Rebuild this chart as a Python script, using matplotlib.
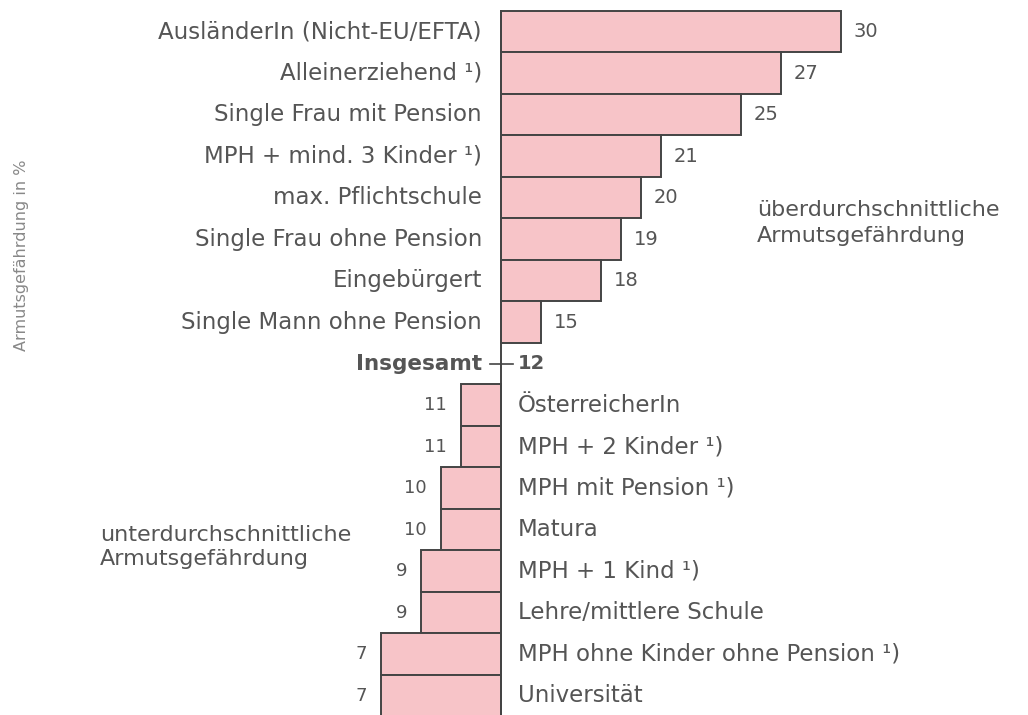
import matplotlib.pyplot as plt

plt.rcParams['font.family'] = ['DejaVu Sans']

above_labels = ["AusländerIn (Nicht-EU/EFTA)", "Alleinerziehend ¹)", "Single Frau mit Pension",
                "MPH + mind. 3 Kinder ¹)", "max. Pflichtschule", "Single Frau ohne Pension",
                "Eingebürgert", "Single Mann ohne Pension"]
above_vals = [30, 27, 25, 21, 20, 19, 18, 15]

below_labels = ["ÖsterreicherIn", "MPH + 2 Kinder ¹)", "MPH mit Pension ¹)", "Matura",
                "MPH + 1 Kind ¹)", "Lehre/mittlere Schule", "MPH ohne Kinder ohne Pension ¹)",
                "Universität"]
below_vals = [11, 11, 10, 10, 9, 9, 7, 7]

total_label = "Insgesamt"
total_val = 12

base = 13  # where the bars start in the original drawing
fill = "#f7c4c8"
edge = "#444444"
txt = "#555555"

fig = plt.figure(figsize=(10.28, 7.15), dpi=100)
ax = fig.add_axes([0, 0, 1, 1])
ax.set_xlim(-12.05, 39.35)
ax.set_ylim(16.464, -0.765)
ax.axis("off")

# rows above average
ya = list(range(len(above_vals)))
ax.barh(ya, [v - base for v in above_vals], left=base, height=1.0,
        color=fill, edgecolor=edge, linewidth=1.4)
for y, v, lab in zip(ya, above_vals, above_labels):
    ax.text(base - 0.95, y, lab, ha="right", va="center", fontsize=16.5, color=txt)
    ax.text(v + 0.65, y, str(v), ha="left", va="center", fontsize=14, color=txt)

# total row
yt = len(above_vals)
ax.plot([base - 0.55, base + 0.6], [yt, yt], color=edge, lw=1.2)
ax.text(base - 0.95, yt, total_label, ha="right", va="center", fontsize=15.5,
        color=txt, fontweight="bold")
ax.text(base + 0.85, yt, str(total_val), ha="left", va="center", fontsize=14,
        color=txt, fontweight="bold")

# rows below average
yb = [yt + 1 + i for i in range(len(below_vals))]
ax.barh(yb, [v - base for v in below_vals], left=base, height=1.0,
        color=fill, edgecolor=edge, linewidth=1.4)
for y, v, lab in zip(yb, below_vals, below_labels):
    ax.text(base + 0.85, y, lab, ha="left", va="center", fontsize=16.5, color=txt)
    ax.text(v - 0.7, y, str(v), ha="right", va="center", fontsize=13, color=txt)

# vertical axis line
ax.plot([base, base], [-0.5, 16.6], color=edge, lw=1.4)

ax.text(25.8, 4.61, "überdurchschnittliche\nArmutsgefährdung", ha="left", va="center",
        fontsize=16, color=txt, linespacing=1.4)
ax.text(-7.05, 12.42, "unterdurchschnittliche\nArmutsgefährdung", ha="left", va="center",
        fontsize=16, color=txt, linespacing=1.25)

fig.text(0.021, 1 - 255 / 715, "Armutsgefährdung in %", rotation=90, ha="center",
         va="center", fontsize=11.5, color="#888888")

fig.savefig("out.png", dpi=100)
